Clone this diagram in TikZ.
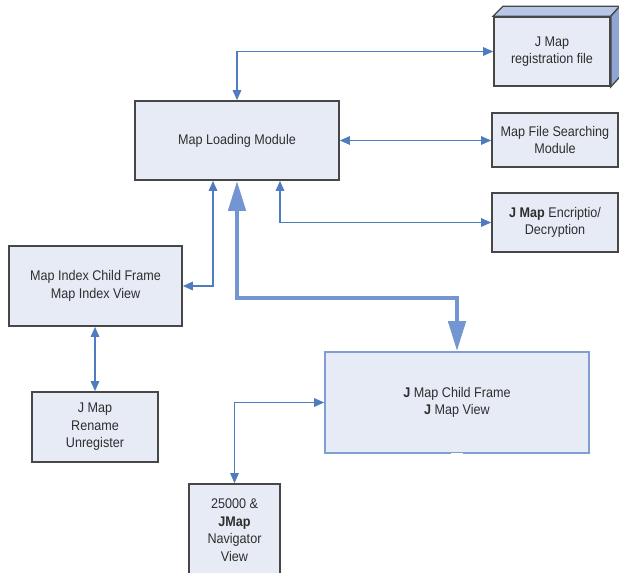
\documentclass[tikz,border=0pt]{standalone}
\usepackage{fontspec}
\setmainfont{Liberation Sans}[FakeStretch=0.9]
\usetikzlibrary{arrows.meta}
\definecolor{boxfill}{HTML}{E6EBF6}
\definecolor{boxline}{HTML}{474747}
\definecolor{arr}{HTML}{4F7BBF}
\definecolor{thickarr}{HTML}{7396D2}
\definecolor{jline}{HTML}{7F9FD0}
\definecolor{sideface}{HTML}{8FA5D2}
\definecolor{topface}{HTML}{B9C7E6}
\definecolor{txt}{HTML}{2E2E2E}
\begin{document}
\begin{tikzpicture}[x=1pt,y=-1pt,
  box/.style={draw=boxline,fill=boxfill,line width=1.7pt,inner sep=0pt,align=center,
    font=\fontsize{14}{17.5}\selectfont,text=txt},
  conn/.style={draw=arr,line width=1.4pt,
    {Triangle[length=10pt,width=8.5pt]}-{Triangle[length=10pt,width=8.5pt]}},
  bigconn/.style={draw=thickarr,line width=4.5pt,
    {Triangle[length=30pt,width=17pt]}-{Triangle[length=30pt,width=17pt]}}]
\useasboundingbox (0,0) rectangle (619,573);
\clip (0,0) rectangle (619,573);
\fill[white] (0,0) rectangle (619,573);

% nodes
\node[box,minimum width=116pt,minimum height=69pt] (reg) at (552,51.5) {J Map\\registration file};
\fill[topface,draw=boxline,line width=1.3pt] (reg.north west) -- ++(10,-10) -- ([shift={(9,-10)}]reg.north east) -- (reg.north east) -- cycle;
\fill[sideface,draw=boxline,line width=1.3pt] (reg.north east) -- ++(9,-10) -- ([shift={(9,-10)}]reg.south east) -- (reg.south east) -- cycle;

\node[box,minimum width=204pt,minimum height=79pt] (mlm) at (237,140.5) {Map Loading Module};
\node[box,minimum width=126pt,minimum height=54pt] (mfs) at (555,140) {Map File Searching\\Module};
\node[box,minimum width=126pt,minimum height=59pt] (enc) at (555,222.5) {\textbf{J Map} Encriptio/\\Decryption};
\node[box,minimum width=173pt,minimum height=80pt] (mic) at (95.5,286) {Map Index Child Frame\\Map Index View};
\node[box,minimum width=126pt,minimum height=70pt] (jmr) at (95,427) {J Map\\Rename\\Unregister};
\node[box,draw=jline,minimum width=264pt,minimum height=101pt] (jmc) at (457,402.5) {\textbf{J} Map Child Frame\\\textbf{J} Map View};
\node[box,minimum width=91pt,minimum height=92pt] (nav) at (234.5,530) {25000 \&\\\textbf{JMap}\\Navigator\\View};
\draw[white,line width=2.5pt] ([xshift=-6pt]jmc.south) -- ([xshift=6pt]jmc.south);

% helper coordinates
\coordinate (p1) at (213,0);
\coordinate (p2) at (280,0);
\coordinate (q) at (0,298);

% connectors
\draw[conn] (mlm.north) |- (reg.west);
\draw[conn] (mlm.east) -- (mlm.east -| mfs.west);
\draw[conn] (mlm.south -| p2) |- (enc.west);
\draw[conn] (mlm.south -| p1) |- (mic.east);
\draw[conn] (jmr.north |- mic.south) -- (jmr.north);
\draw[conn] (jmc.west) -| (nav.north);
\draw[bigconn] (mlm.south) -- (mlm.south |- q) -- (jmc.north |- q) -- (jmc.north);
\end{tikzpicture}
\end{document}
